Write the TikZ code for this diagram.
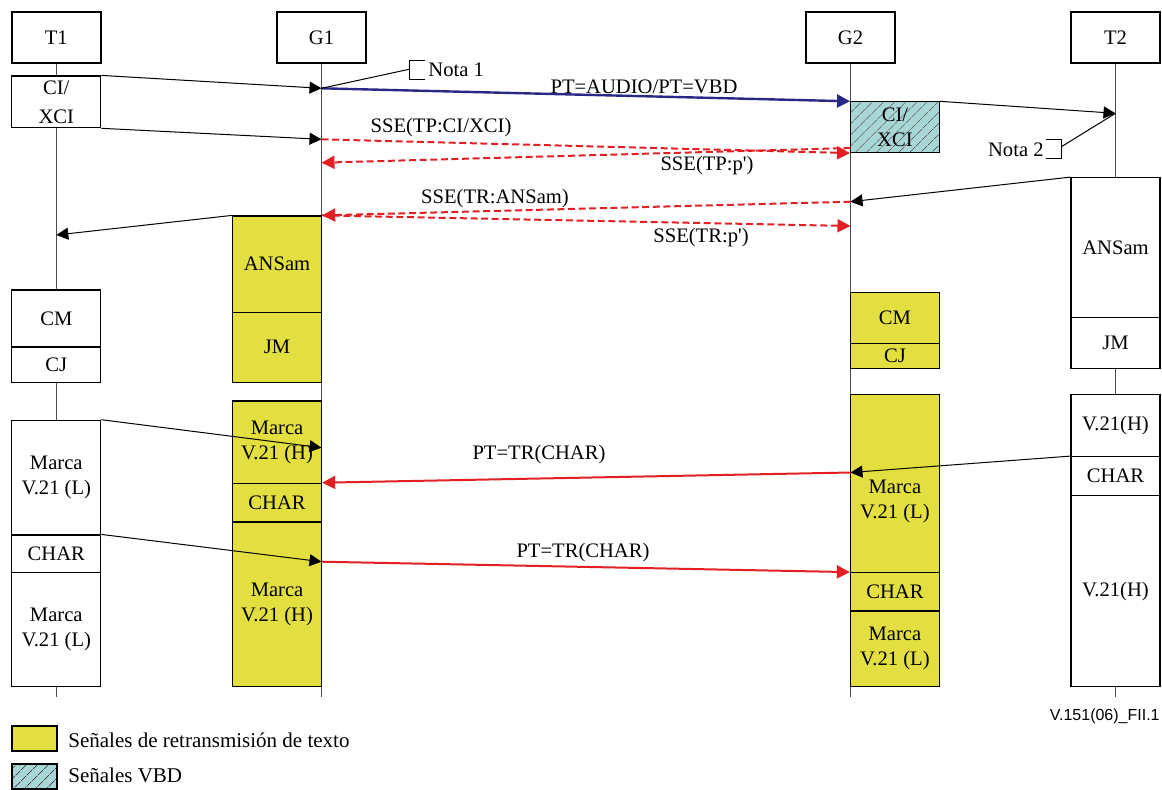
\documentclass[tikz,border=0pt]{standalone}
\usepackage{fontspec}
\setmainfont{Liberation Serif}[Ligatures=TeXOff]
\newfontfamily\footfont{Liberation Sans}
\usetikzlibrary{arrows.meta,patterns.meta}
\definecolor{relay}{RGB}{228,223,64}
\definecolor{vbd}{RGB}{168,214,214}
\definecolor{navy}{RGB}{40,40,135}
\definecolor{sigred}{RGB}{226,32,36}
\tikzset{
  hdr/.style={draw, line width=1pt, minimum width=44.5pt, minimum height=25.5pt, fill=white, inner sep=0pt},
  bx/.style={draw, line width=0.6pt, minimum width=44.5pt, inner sep=0pt, align=center, fill=white},
  ybx/.style={bx, fill=relay},
  hbx/.style={bx, fill=none, preaction={fill=vbd}, pattern={Lines[angle=45,distance=4pt,line width=0.4pt]}, pattern color=black!75},
  life/.style={draw=black!70, line width=0.6pt},
  msg/.style={-{Triangle[length=6pt,width=6pt]}, line width=0.5pt},
  rmsg/.style={draw=sigred, -{Triangle[length=6.5pt,width=6.5pt]}, line width=1pt},
  rdsh/.style={rmsg, dash pattern=on 3.5pt off 1.8pt},
  bmsg/.style={draw=navy, -{Triangle[length=6.5pt,width=6.5pt]}, line width=1.2pt},
  lbl/.style={inner sep=0pt},
  lead/.style={line width=0.5pt}
}
\begin{document}
\begin{tikzpicture}[x=0.5pt,y=-0.5pt,font=\fontsize{10.3}{12.5}\selectfont]
\useasboundingbox (0,0) rectangle (1162,789);

% headers
\node[hdr] (t1h) at (56.3,37.8) {T1};
\node[hdr] (g1h) at (321.5,37.8) {G1};
\node[hdr] (g2h) at (850.5,37.8) {G2};
\node[hdr] (t2h) at (1115.5,37.8) {T2};

% lifelines
\coordinate (t1e) at (56.3,697);
\coordinate (g1e) at (321.5,697);
\coordinate (g2e) at (850.5,697);
\coordinate (t2e) at (1115.5,697);
\draw[life] (t1h.south) -- (t1e);
\draw[life] (g1h.south) -- (g1e);
\draw[life] (g2h.south) -- (g2e);
\draw[life] (t2h.south) -- (t2e);

% T1 boxes
\node[bx, minimum height=25.85pt] (t1ci) at (56.3,101.85) {CI/\\[2pt]XCI};
\node[bx, minimum height=28.5pt] (t1cm) at (56.3,318.5) {CM};
\node[bx, minimum height=17.85pt] (t1cj) at (56.3,364.85) {CJ};
\node[bx, minimum height=57.35pt] (t1m1) at (56.3,477.65) {Marca\\V.21 (L)};
\node[bx, minimum height=18.85pt] (t1ch) at (56.3,553.85) {CHAR};
\node[bx, minimum height=57pt] (t1m2) at (56.3,629.7) {Marca\\V.21 (L)};

% G1 boxes
\node[ybx, minimum height=48.15pt] (g1ans) at (277.05,264.15) {ANSam};
\node[ybx, minimum height=35pt] (g1jm) at (277.05,347.3) {JM};
\node[ybx, minimum height=41.15pt] (g1m1) at (277.05,442.15) {Marca\\V.21 (H)};
\node[ybx, minimum height=19.35pt] (g1ch) at (277.05,502.65) {CHAR};
\node[ybx, minimum height=82.35pt] (g1m2) at (277.05,604.35) {Marca\\V.21 (H)};

% G2 boxes
\node[hbx, minimum height=25.5pt] (g2ci) at (894.95,127.2) {CI/\\XCI};
\node[ybx, minimum height=25.5pt] (g2cm) at (894.95,317.8) {CM};
\node[ybx, minimum height=12.5pt] (g2cj) at (894.95,355.8) {CJ};
\node[ybx, minimum height=89pt] (g2m1) at (894.95,483.7) {};
\node[lbl, align=center] (g2m1t) at (894.95,501) {Marca\\V.21 (L)};
\node[ybx, minimum height=19.15pt] (g2ch) at (894.95,591.85) {CHAR};
\node[ybx, minimum height=37.85pt] (g2m2) at (894.95,648.85) {Marca\\V.21 (L)};

% T2 boxes
\node[bx, minimum height=70pt] (t2ans) at (1115.5,247.7) {ANSam};
\node[bx, minimum height=25.3pt] (t2jm) at (1115.5,343) {JM};
\node[bx, minimum height=31.2pt] (t2v1) at (1115.5,425.5) {V.21(H)};
\node[bx, minimum height=19.5pt] (t2ch) at (1115.5,476.2) {CHAR};
\node[bx, minimum height=95.5pt] (t2v2) at (1115.5,591.2) {V.21(H)};

% points on lifelines
\coordinate (g1a) at (321.5,88.3);
\coordinate (g1b) at (321.5,139.3);
\coordinate (g1c) at (321.5,162.7);
\coordinate (g1f) at (321.5,447.7);
\coordinate (g1g) at (321.5,561.7);
\coordinate (g2a) at (850.5,148);
\coordinate (g2b) at (850.5,201.7);
\coordinate (g2c) at (850.5,226);
\coordinate (g2d) at (850.5,472.5);
\coordinate (t2a) at (1115.5,113.3);
\coordinate (t1a) at (56.3,235);

% messages
\draw[msg] (t1ci.north east) -- (g1a);
\draw[msg] (t1ci.south east) -- (g1b);
\draw[bmsg] (g1a) -- (g2ci.north west);
\draw[msg] (g2ci.north east) -- (t2a);
\draw[rdsh] (g1b) -- (g2ci.south west);
\draw[rdsh] (g2a) -- (g1c);
\draw[msg] (t2ans.north west) -- (g2b);
\draw[rdsh] (g2b) -- (g1ans.north east);
\draw[rdsh] (g1ans.north east) -- (g2c);
\draw[msg] (g1ans.north west) -- (t1a);
\draw[msg] (t1m1.north east) -- (g1f);
\draw[msg] (t2ch.north west) -- (g2d);
\draw[rmsg] (g2d) -- (g1ch.north east);
\draw[msg] (t1ch.north east) -- (g1g);
\draw[rmsg] (g1g) -- (g2ch.north west);

% labels
\node[lbl] (l1) at (644,87) {PT=AUDIO/PT=VBD};
\node[lbl] (l2) at (441,128) {SSE(TP:CI/XCI)};
\node[lbl] (l3) at (707,166) {SSE(TP:p')};
\node[lbl] (l4) at (495,199) {SSE(TR:ANSam)};
\node[lbl] (l5) at (701,238) {SSE(TR:p')};
\node[lbl] (l6) at (539,455) {PT=TR(CHAR)};
\node[lbl] (l7) at (583,553) {PT=TR(CHAR)};

% notes
\coordinate (n1) at (409,69.3);
\draw[lead] (g1a) -- (n1);
\draw[lead] (424.8,60) -- (409,60) -- (409,79.3) -- (424.8,79.3);
\node[lbl, anchor=west] (nota1) at (428,70) {Nota 1};
\coordinate (n2) at (1061.4,146.7);
\draw[lead] (n2) -- (t2a);
\draw[lead] (1046,139) -- (1061.4,139) -- (1061.4,158.3) -- (1046,158.3);
\node[lbl, anchor=east] (nota2) at (1044,150) {Nota 2};

% footer and legend
\node[lbl, anchor=east, font=\footfont\fontsize{8}{9}\selectfont] (fig) at (1160,716) {V.151(06)\_FII.1};
\node[ybx, minimum width=22.5pt, minimum height=12.5pt] (lg1) at (34.5,738.5) {};
\node[lbl, anchor=west, font=\fontsize{10.5}{12}\selectfont] (lg1t) at (68,740) {Señales de retransmisión de texto};
\node[hbx, minimum width=22.5pt, minimum height=12.5pt] (lg2) at (34.5,776.5) {};
\node[lbl, anchor=west, font=\fontsize{10.5}{12}\selectfont] (lg2t) at (68,775) {Señales VBD};
\end{tikzpicture}
\end{document}
